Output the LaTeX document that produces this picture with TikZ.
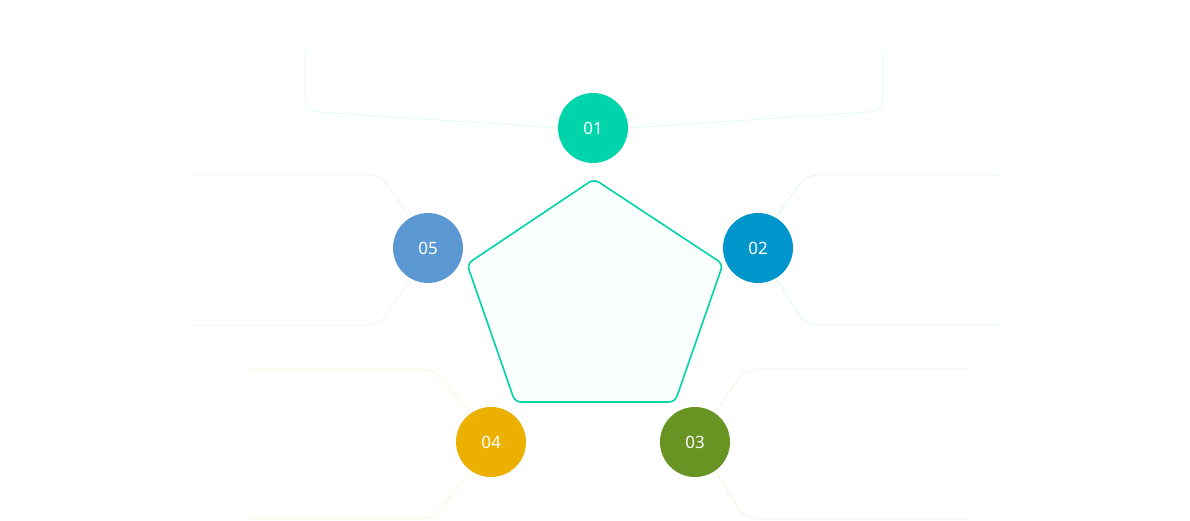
\documentclass[tikz,border=0pt]{standalone}
\usepackage{fontspec}
\setmainfont{Noto Sans}
\definecolor{cA}{HTML}{00D4AA}
\definecolor{cB}{HTML}{0096CC}
\definecolor{cC}{HTML}{679423}
\definecolor{cD}{HTML}{EBB000}
\definecolor{cE}{HTML}{5B97D3}
\tikzset{
  num/.style={circle,minimum size=70pt,inner sep=0pt,text=white,font=\bfseries\fontsize{17}{17}\selectfont},
  guide/.style={line width=0.8pt,rounded corners=12pt}
}
\begin{document}
\begin{tikzpicture}[x=1pt,y=-1pt]
\useasboundingbox (0,0) rectangle (1190,521);
\node[num,fill=cA] (n1) at (593,128) {01};
\node[num,fill=cB] (n2) at (758,248) {02};
\node[num,fill=cC] (n3) at (695,442) {03};
\node[num,fill=cD] (n4) at (491,442) {04};
\node[num,fill=cE] (n5) at (428,248) {05};
\coordinate (p1) at (594,179);
\coordinate (p2) at (723,264);
\coordinate (p3) at (675,402);
\coordinate (p4) at (515,402);
\coordinate (p5) at (467,264);
\draw[cA,line width=1.6pt,fill=cA!2,rounded corners=6pt] (p1) -- (p2) -- (p3) -- (p4) -- (p5) -- cycle;
% guides
\draw[guide,cA!12] (n1.west) -- (305,111) -- (305,50);
\draw[guide,cA!12] (n1.east) -- (883,111) -- (883,50);
\draw[guide,cE!12] (n5.120) -- (380,175) -- (190,175);
\draw[guide,cE!12] (n5.240) -- (380,325) -- (190,325);
\draw[guide,cB!12] (n2.60) -- (806,175) -- (1000,175);
\draw[guide,cB!12] (n2.300) -- (806,325) -- (1000,325);
\draw[guide,cD!15] (n4.125) -- (433,369) -- (250,369);
\draw[guide,cD!15] (n4.235) -- (433,519) -- (250,519);
\draw[guide,cC!12] (n3.55) -- (745,369) -- (970,369);
\draw[guide,cC!12] (n3.305) -- (745,519) -- (970,519);
\end{tikzpicture}
\end{document}
